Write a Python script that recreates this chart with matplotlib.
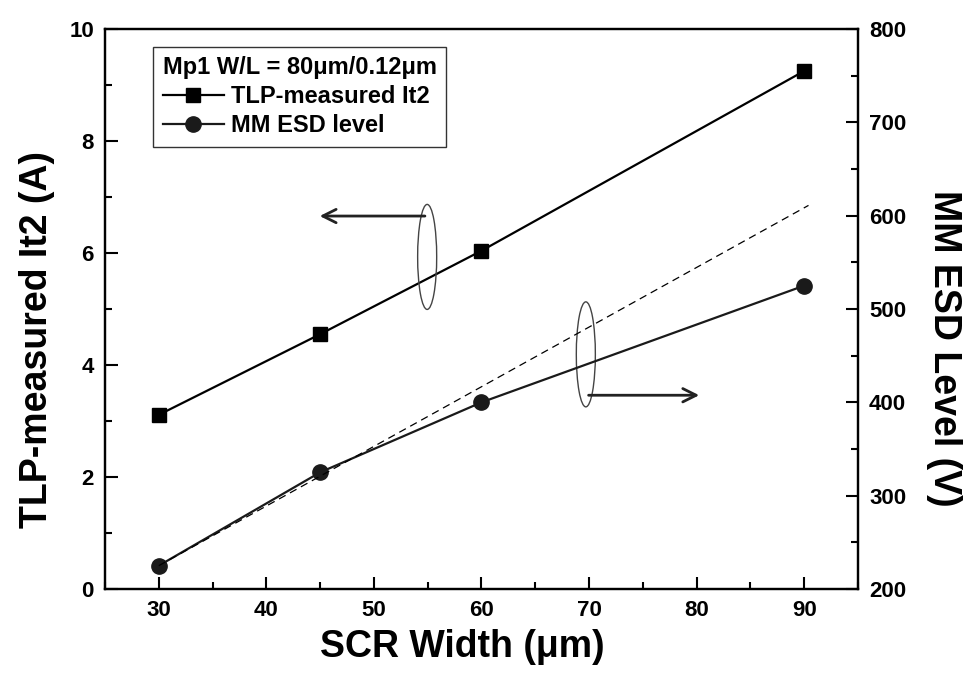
import matplotlib
matplotlib.use('Agg')
import matplotlib.pyplot as plt
from matplotlib.patches import Ellipse
from matplotlib.ticker import MultipleLocator

plt.rcParams['font.family'] = ['Liberation Sans', 'DejaVu Sans']
plt.rcParams['font.weight'] = 'bold'

# ── data ──
scr_width = [30, 45, 60, 90]
tlp_it2 = [3.11, 4.55, 6.04, 9.25]
mm_esd = [225, 325, 400, 525]
trend_x = [30, 90.4]
trend_y = [225, 611]

fig = plt.figure(figsize=(9.65, 6.76), dpi=100)
ax = fig.add_axes([0.1088, 0.1287, 0.7803, 0.8284])
ax2 = ax.twinx()

ln1, = ax.plot(scr_width, tlp_it2, color='black', lw=1.6, marker='s',
               markersize=10, label='TLP-measured It2')
ln2, = ax2.plot(scr_width, mm_esd, color='#1a1a1a', lw=1.6, marker='o',
                markersize=11, label='MM ESD level')
ax2.plot(trend_x, trend_y, color='black', lw=0.9, ls=(0, (6, 4)))

ax.set_xlim(25, 95)
ax.set_ylim(0, 10)
ax2.set_ylim(200, 800)

ax.xaxis.set_major_locator(MultipleLocator(10))
ax.xaxis.set_minor_locator(MultipleLocator(5))
ax.yaxis.set_major_locator(MultipleLocator(2))
ax.yaxis.set_minor_locator(MultipleLocator(1))
ax2.yaxis.set_major_locator(MultipleLocator(100))
ax2.yaxis.set_minor_locator(MultipleLocator(50))

for a in (ax, ax2):
    a.tick_params(which='major', direction='in', length=9, width=1.5,
                  labelsize=16, pad=8)
    a.tick_params(which='minor', direction='in', length=5, width=1.5)
    for sp in a.spines.values():
        sp.set_linewidth(1.6)
ax.tick_params(axis='y', which='both', right=False)
for lab in ax.get_xticklabels() + ax.get_yticklabels() + ax2.get_yticklabels():
    lab.set_fontweight('bold')

ax.set_xlabel('SCR Width (μm)', fontsize=27, fontweight='bold', labelpad=6)
ax.set_ylabel('TLP-measured It2 (A)', fontsize=27, fontweight='bold', labelpad=10)
ax2.set_ylabel('MM ESD Level (V)', fontsize=27, fontweight='bold',
               rotation=270, labelpad=40)
ax.xaxis.label.set_x(0.475)
ax.yaxis.label.set_y(0.445)
ax2.yaxis.label.set_y(0.43)

# ellipses + arrows pointing to each axis
ax.add_patch(Ellipse((54.95, 5.93), 1.77, 1.875, fill=False,
                     edgecolor='#444444', lw=1.0, zorder=3))
ax.annotate('', xy=(44.7, 6.66), xytext=(55.0, 6.66),
            arrowprops=dict(arrowstyle='->', color='#222222', lw=2.0,
                            mutation_scale=24))
ax.add_patch(Ellipse((69.7, 4.19), 1.77, 1.875, fill=False,
                     edgecolor='#444444', lw=1.0, zorder=3))
ax.annotate('', xy=(80.5, 3.46), xytext=(69.7, 3.46),
            arrowprops=dict(arrowstyle='->', color='#222222', lw=2.0,
                            mutation_scale=24))

leg = ax2.legend(handles=[ln1, ln2], title='Mp1 W/L = 80μm/0.12μm',
                 loc='upper left', bbox_to_anchor=(0.064, 0.968),
                 borderaxespad=0, fontsize=17, title_fontsize=17,
                 alignment='left', fancybox=False, edgecolor='black',
                 handlelength=2.6, handletextpad=0.3, labelspacing=0.25,
                 borderpad=0.4)
leg.get_frame().set_linewidth(1.0)
leg.get_title().set_fontweight('bold')
for t in leg.get_texts():
    t.set_fontweight('bold')

fig.savefig('out.png', dpi=100, facecolor='white')
